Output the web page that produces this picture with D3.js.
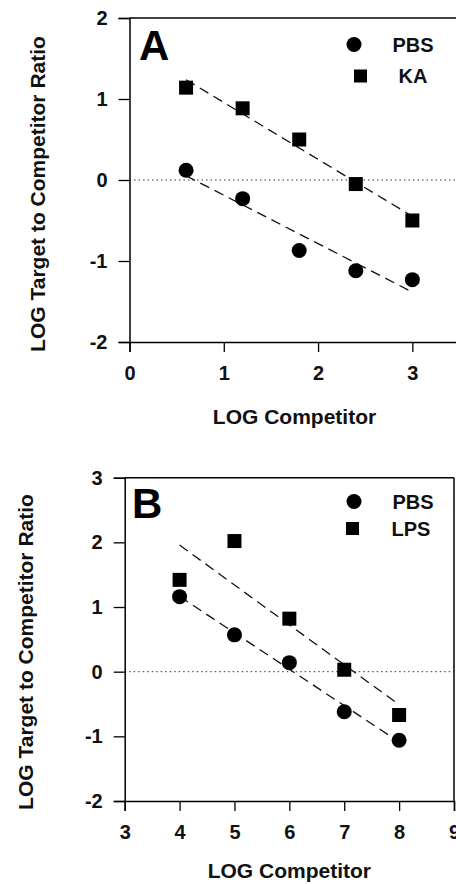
<!DOCTYPE html>
<html>
<head>
<meta charset="utf-8">
<script src="https://cdn.jsdelivr.net/npm/d3@7"></script>
<style>
  body { margin: 0; background: #fff; }
  svg { display: block; font-family: "Liberation Sans", Arial, sans-serif; font-weight: bold; }
</style>
</head>
<body>
<svg id="chart" width="456" height="884"></svg>
<script>
// panel A
var competitorA = [0.6, 1.2, 1.8, 2.4, 3.0];
var pbsA = [0.12, -0.23, -0.87, -1.12, -1.23];
var kaA = [1.14, 0.885, 0.50, -0.05, -0.50];
var xTicksA = [0, 1, 2, 3];
var yTicksA = [-2, -1, 0, 1, 2];

// panel B
var competitorB = [4, 5, 6, 7, 8];
var pbsB = [1.16, 0.57, 0.14, -0.62, -1.06];
var lpsB = [1.42, 2.02, 0.82, 0.03, -0.67];
var xTicksB = [3, 4, 5, 6, 7, 8, 9];
var yTicksB = [-2, -1, 0, 1, 2, 3];

var svg = d3.select("svg#chart");

// least squares fit, used for the dashed lines
function fit(xs, ys) {
    var mx = d3.mean(xs), my = d3.mean(ys);
    var sxy = d3.sum(xs, function (x, i) { return (x - mx) * (ys[i] - my); });
    var sxx = d3.sum(xs, function (x) { return (x - mx) * (x - mx); });
    var b = sxy / sxx;
    return function (x) { return my + b * (x - mx); };
}

function painel(opt) {
    var x = d3.scaleLinear().domain(opt.xDomain).range(opt.xRange);
    var y = d3.scaleLinear().domain(opt.yDomain).range(opt.yRange);
    var g = svg.append("g");

    var x0 = opt.xRange[0], x1 = opt.xRange[1];
    var yTop = opt.yRange[1], yBot = opt.yRange[0];

    // zero line
    g.append("line")
        .attr("x1", x0).attr("x2", Math.min(x1, 456))
        .attr("y1", y(0)).attr("y2", y(0))
        .attr("stroke", "#333")
        .attr("stroke-width", 1)
        .attr("stroke-dasharray", "1.5,3");

    // frame top and right
    g.append("line")
        .attr("x1", x0).attr("x2", x1)
        .attr("y1", yTop).attr("y2", yTop)
        .attr("stroke", "#000").attr("stroke-width", 1.5);
    g.append("line")
        .attr("x1", x1).attr("x2", x1)
        .attr("y1", yTop).attr("y2", yBot)
        .attr("stroke", "#000").attr("stroke-width", 1.5);

    var fmt = function (d) { return String(d); };  // plain hyphen minus like the original

    var axisY = g.append("g")
        .attr("transform", "translate(" + x0 + ",0)")
        .call(d3.axisLeft(y).tickValues(opt.yTicks).tickSizeOuter(0).tickSize(11).tickPadding(11).tickFormat(fmt));
    var axisX = g.append("g")
        .attr("transform", "translate(0," + yBot + ")")
        .call(d3.axisBottom(x).tickValues(opt.xTicks).tickSizeOuter(0).tickSize(10).tickPadding(14).tickFormat(fmt));

    [axisY, axisX].forEach(function (a) {
        a.select(".domain").attr("stroke-width", 1.5);
        a.selectAll(".tick line").attr("stroke-width", 1.3);
        a.selectAll("text")
            .attr("font-family", "Liberation Sans, Arial, sans-serif")
            .attr("font-weight", "bold")
            .attr("font-size", 20)
            .attr("fill", "#111");
    });

    // dashed fits
    opt.series.forEach(function (s) {
        var f = fit(opt.xs, s.values);
        var xa = d3.min(opt.xs), xb = d3.max(opt.xs);
        g.append("line")
            .attr("x1", x(xa)).attr("y1", y(f(xa)))
            .attr("x2", x(xb)).attr("y2", y(f(xb)))
            .attr("stroke", "#111")
            .attr("stroke-width", 1.3)
            .attr("stroke-dasharray", "10,6");
    });

    // points
    opt.series.forEach(function (s) {
        var pts = s.values.map(function (v, i) { return {x: opt.xs[i], y: v}; });
        if (s.shape == "circle") {
            g.selectAll(".c" + s.name).data(pts).enter().append("circle")
                .attr("cx", function (d) { return x(d.x); })
                .attr("cy", function (d) { return y(d.y); })
                .attr("r", 7.5)
                .attr("fill", "#000");
        } else {
            g.selectAll(".s" + s.name).data(pts).enter().append("rect")
                .attr("x", function (d) { return x(d.x) - 7; })
                .attr("y", function (d) { return y(d.y) - 7; })
                .attr("width", 14).attr("height", 14)
                .attr("fill", "#000");
        }
    });

    // legend
    opt.series.forEach(function (s, i) {
        var ly = opt.legend.y[i];
        if (s.shape == "circle") {
            g.append("circle").attr("cx", opt.legend.mx[i]).attr("cy", ly).attr("r", 7.5).attr("fill", "#000");
        } else {
            g.append("rect").attr("x", opt.legend.mx[i] - 6.5).attr("y", ly - 6.5)
                .attr("width", 13).attr("height", 13).attr("fill", "#000");
        }
        g.append("text")
            .attr("x", opt.legend.tx[i]).attr("y", ly + 7)
            .attr("text-anchor", "middle")
            .attr("font-size", 20)
            .attr("fill", "#111")
            .text(s.name);
    });

    // panel letter
    g.append("text")
        .attr("x", opt.letter.x).attr("y", opt.letter.y)
        .attr("font-size", 42)
        .attr("fill", "#000")
        .text(opt.letter.t);

    // axis titles
    g.append("text")
        .attr("x", (x0 + x1) / 2).attr("y", Math.min(yBot + 82, 878))
        .attr("text-anchor", "middle")
        .attr("font-size", 21)
        .attr("fill", "#111")
        .text("LOG Competitor");
    g.append("text")
        .attr("transform", "translate(" + opt.yTitle.x + "," + opt.yTitle.y + ")rotate(-90)")
        .attr("text-anchor", "middle")
        .attr("font-size", 21)
        .attr("fill", "#111")
        .text("LOG Target to Competitor Ratio");
}

painel({
    xDomain: [0, 3.5], xRange: [129.5, 459.5],
    yDomain: [-2, 2], yRange: [342, 18],
    xTicks: xTicksA, yTicks: yTicksA,
    xs: competitorA,
    series: [
        {name: "PBS", shape: "circle", values: pbsA},
        {name: "KA", shape: "square", values: kaA}
    ],
    legend: {mx: [354, 360.5], tx: [413, 413], y: [44.5, 76]},
    letter: {t: "A", x: 139, y: 60},
    yTitle: {x: 44.5, y: 194}
});

painel({
    xDomain: [3, 9], xRange: [124.7, 454],
    yDomain: [-2, 3], yRange: [801, 477.7],
    xTicks: xTicksB, yTicks: yTicksB,
    xs: competitorB,
    series: [
        {name: "PBS", shape: "circle", values: pbsB},
        {name: "LPS", shape: "square", values: lpsB}
    ],
    legend: {mx: [354, 352.5], tx: [413, 411], y: [501.5, 528.5]},
    letter: {t: "B", x: 132, y: 518},
    yTitle: {x: 33, y: 652}
});
</script>
</body>
</html>
